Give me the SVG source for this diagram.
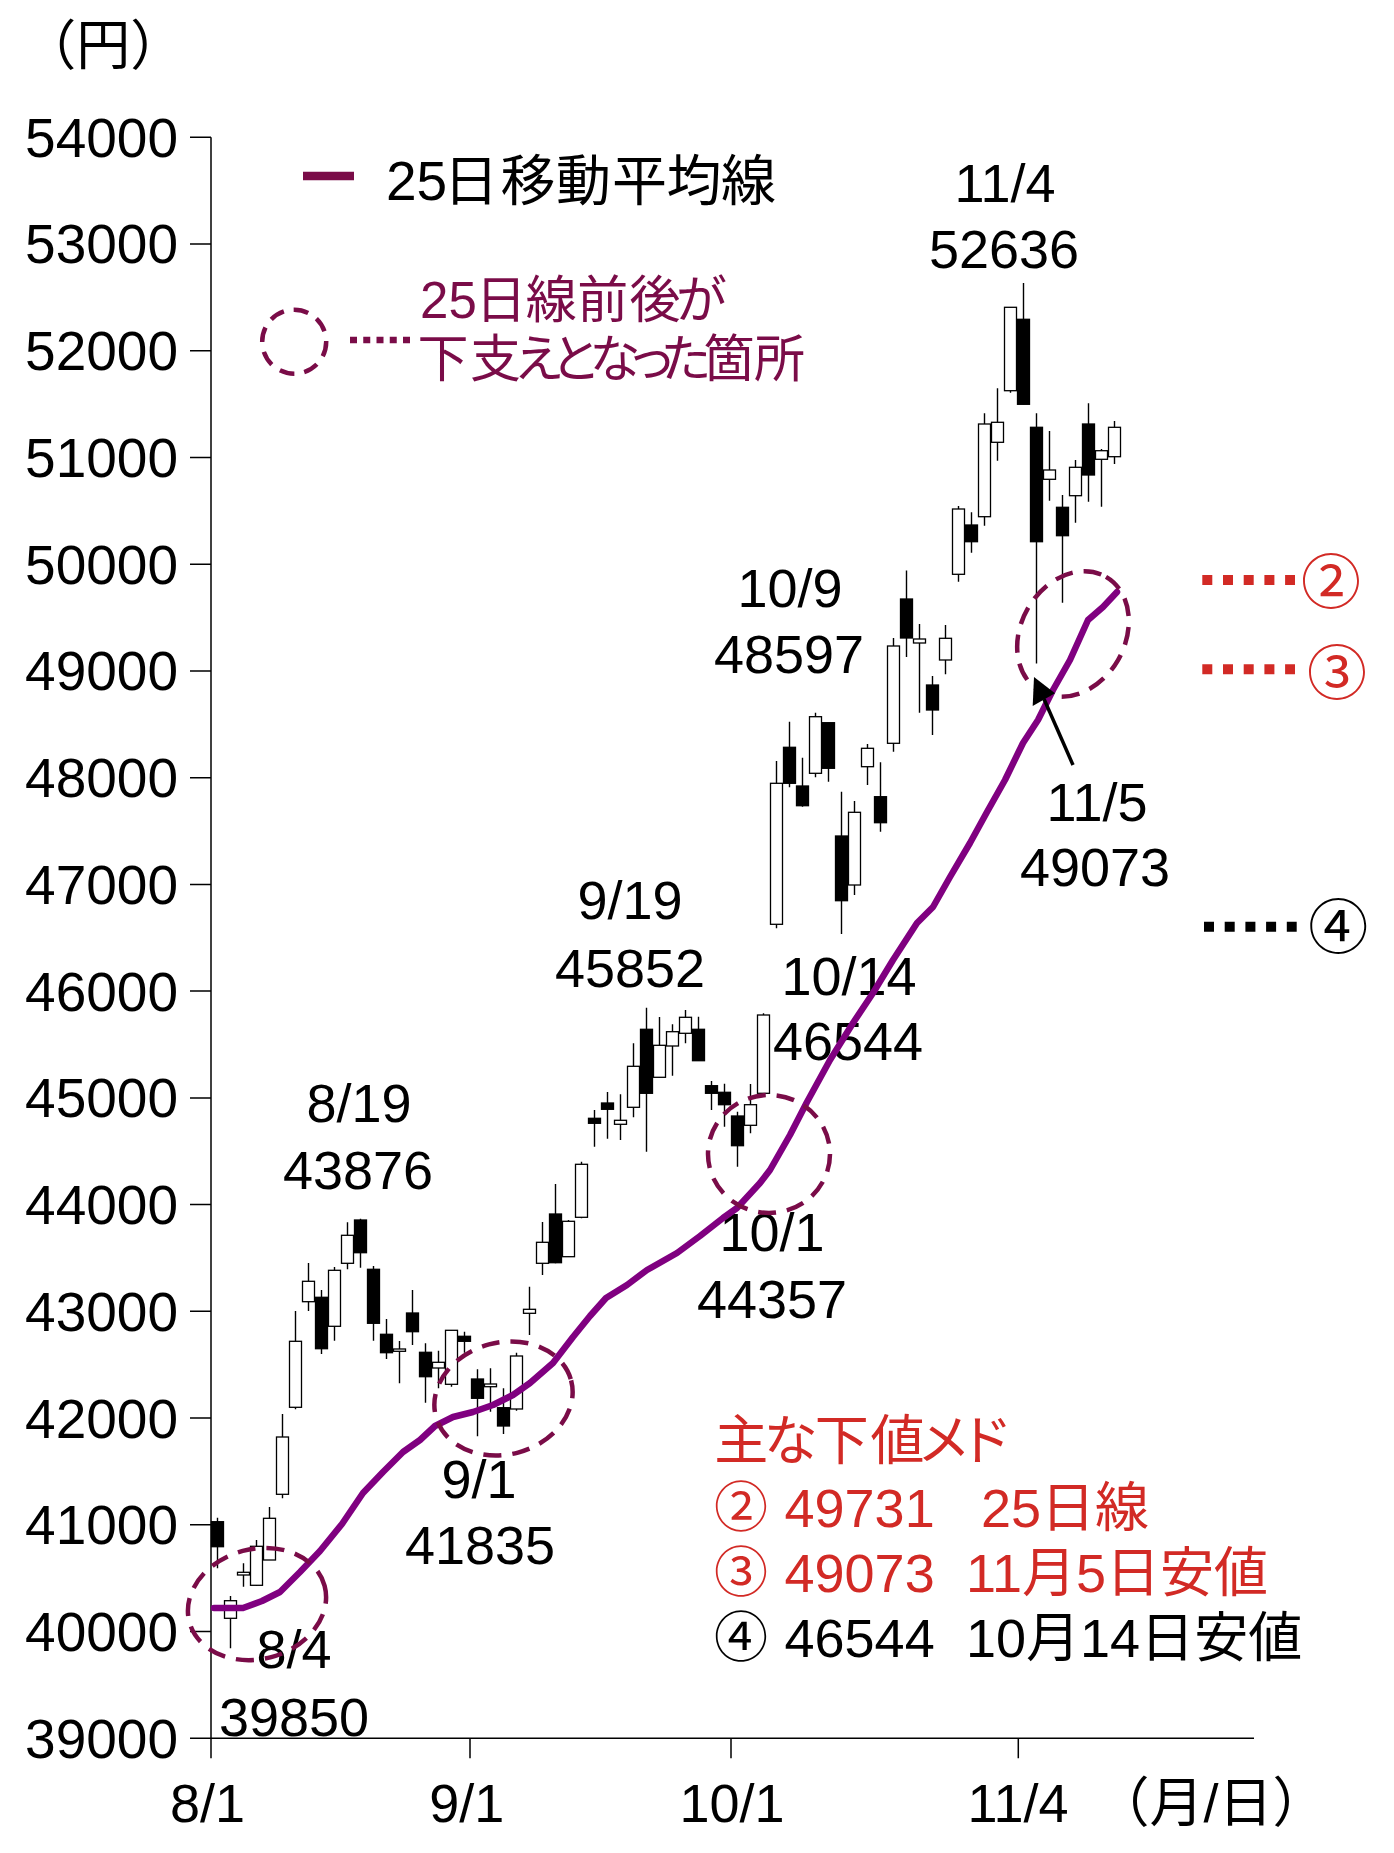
<svg xmlns="http://www.w3.org/2000/svg" width="1394" height="1853" viewBox="0 0 1394 1853">
<style>
text{font-family:"Liberation Sans","Noto Sans CJK JP",sans-serif;font-size:54px;fill:#000}
.mid{text-anchor:middle}
.end{text-anchor:end}
.yl{font-size:55px}
.red{fill:#d22a25}
.mar{fill:#7a0c48}
.ax{stroke:#000;stroke-width:1.5;fill:none}
.wick{stroke:#000;stroke-width:1.4;fill:none}
.cw{fill:#fff;stroke:#000;stroke-width:1.3}
.cb{fill:#000;stroke:#000;stroke-width:1.3}
.ring{fill:none;stroke:#7a0c48;stroke-width:4.5;stroke-dasharray:18 11}
.ma{fill:none;stroke:#800080;stroke-width:6.5;stroke-linejoin:round;stroke-linecap:round}
</style>
<rect width="1394" height="1853" fill="#fff"/>

<g id="axes">
<line class="ax" x1="211" y1="137.3" x2="211" y2="1758.3"/>
<line class="ax" x1="190" y1="1738.3" x2="1254" y2="1738.3"/>
<path class="ax" d="M190 137.3H211M190 244H211M190 350.8H211M190 457.5H211M190 564.2H211M190 670.9H211M190 777.7H211M190 884.4H211M190 991.1H211M190 1097.9H211M190 1204.6H211M190 1311.3H211M190 1418.1H211M190 1524.8H211M190 1631.5H211"/>
<path class="ax" d="M470 1738.3V1758.3M731 1738.3V1758.3M1018.3 1738.3V1758.3"/>
</g>

<g id="y-labels">
<text class="end yl" x="178" y="156.7">54000</text>
<text class="end yl" x="178" y="263.4">53000</text>
<text class="end yl" x="178" y="370.2">52000</text>
<text class="end yl" x="178" y="476.9">51000</text>
<text class="end yl" x="178" y="583.6">50000</text>
<text class="end yl" x="178" y="690.3">49000</text>
<text class="end yl" x="178" y="797.1">48000</text>
<text class="end yl" x="178" y="903.8">47000</text>
<text class="end yl" x="178" y="1010.5">46000</text>
<text class="end yl" x="178" y="1117.3">45000</text>
<text class="end yl" x="178" y="1224">44000</text>
<text class="end yl" x="178" y="1330.7">43000</text>
<text class="end yl" x="178" y="1437.5">42000</text>
<text class="end yl" x="178" y="1544.2">41000</text>
<text class="end yl" x="178" y="1650.9">40000</text>
<text class="end yl" x="178" y="1757.7">39000</text>
<text x="22.2" y="64.5">（円）</text>
</g>

<g id="x-labels">
<text class="mid" x="207.5" y="1821.7">8/1</text>
<text class="mid" x="466.7" y="1821.7">9/1</text>
<text class="mid" x="732" y="1821.7">10/1</text>
<text class="mid" x="1018" y="1821.7">11/4</text>
<text x="1095.5" y="1821.7">（月/日）</text>
</g>

<g id="candles">
<path class="wick" d="M217.5 1517.7V1568.3M230.5 1596V1648.3M243.5 1563.3V1586.7M256.5 1540V1586M269.5 1507V1560M282.5 1414V1498.3M295.5 1311V1409.3M308.5 1263V1311M321.5 1290V1354M334.5 1267V1340.7M347.5 1222.3V1269.3M360.5 1218.7V1267.7M373.5 1266V1340.7M386.5 1319V1359M399.5 1341V1383.3M412.5 1290V1345M425.5 1343.3V1402.7M438.5 1350.7V1388.3M451.5 1330V1386.7M464.5 1331.7V1352.7M477.5 1369.3V1436.3M490.5 1368.3V1411.7M503.5 1388.3V1434M516.5 1352.7V1410.7M529.5 1286.7V1335M542.5 1222V1275M555.5 1184V1263.3M568.5 1220V1256.7M581.5 1161.7V1218.3M594.5 1110V1146.7M607.5 1092V1138.7M620.5 1094.3V1140M633.5 1043.3V1117.3M646.5 1007.7V1151.7M659.5 1017V1077.3M672.5 1024.3V1075.7M685.5 1010V1043.3M698.5 1016.7V1060.7M711.5 1081V1110M724.5 1083.7V1126.7M737.5 1111.7V1166.7M750.5 1084V1133.3M763.5 1013.3V1093.3M776.5 761V928.3M789.5 721.7V787.3M802.5 757.7V806.7M815.5 712.7V777.3M828.5 722.7V781.7M841.5 791.7V934M854.5 801V895M867.5 744V785M880.5 762.3V831.7M893.5 638V751.7M906.5 570.6V657M919.5 624V712.7M932.5 676V735M945.5 625V674.3M958.5 506V581.7M971.5 512.3V552.7M984.5 413.3V525.7M997.5 388.3V460.7M1010.5 307.3V392.7M1023.5 283V404.3M1036.5 413.3V663.5M1049.5 431V500.7M1062.5 495V602.7M1075.5 460V522.7M1088.5 403.3V501.7M1101.5 449V506.7M1114.5 421V464"/>
<rect class="cb" x="211.5" y="1521.7" width="12" height="25"/>
<rect class="cw" x="224.5" y="1600.7" width="12" height="17.6"/>
<rect class="cw" x="237.5" y="1572.3" width="12" height="2.7"/>
<rect class="cw" x="250.5" y="1546.3" width="12" height="39"/>
<rect class="cw" x="263.5" y="1518.3" width="12" height="41.7"/>
<rect class="cw" x="276.5" y="1437" width="12" height="57.3"/>
<rect class="cw" x="289.5" y="1341.3" width="12" height="66"/>
<rect class="cw" x="302.5" y="1281.3" width="12" height="20.4"/>
<rect class="cb" x="315.5" y="1297.3" width="12" height="51.4"/>
<rect class="cw" x="328.5" y="1270.3" width="12" height="56"/>
<rect class="cw" x="341.5" y="1235.3" width="12" height="28"/>
<rect class="cb" x="354.5" y="1220" width="12" height="32.7"/>
<rect class="cb" x="367.5" y="1269.3" width="12" height="54"/>
<rect class="cb" x="380.5" y="1334.3" width="12" height="18.4"/>
<rect class="cw" x="393.5" y="1349" width="12" height="2.3"/>
<rect class="cb" x="406.5" y="1313" width="12" height="18.7"/>
<rect class="cb" x="419.5" y="1352.3" width="12" height="24.4"/>
<rect class="cw" x="432.5" y="1362.3" width="12" height="5.7"/>
<rect class="cw" x="445.5" y="1330.3" width="12" height="54"/>
<rect class="cb" x="458.5" y="1336.3" width="12" height="5"/>
<rect class="cb" x="471.5" y="1379" width="12" height="19.3"/>
<rect class="cw" x="484.5" y="1384" width="12" height="2.7"/>
<rect class="cb" x="497.5" y="1407.7" width="12" height="18.3"/>
<rect class="cw" x="510.5" y="1356" width="12" height="53"/>
<rect class="cw" x="523.5" y="1309.3" width="12" height="4"/>
<rect class="cw" x="536.5" y="1242.3" width="12" height="21"/>
<rect class="cb" x="549.5" y="1214" width="12" height="48.7"/>
<rect class="cw" x="562.5" y="1221.3" width="12" height="35.4"/>
<rect class="cw" x="575.5" y="1164.3" width="12" height="53"/>
<rect class="cb" x="588.5" y="1118.3" width="12" height="5"/>
<rect class="cb" x="601.5" y="1103" width="12" height="6.3"/>
<rect class="cw" x="614.5" y="1120.3" width="12" height="4"/>
<rect class="cw" x="627.5" y="1066.3" width="12" height="41"/>
<rect class="cb" x="640.5" y="1029.3" width="12" height="64"/>
<rect class="cw" x="653.5" y="1045.3" width="12" height="32"/>
<rect class="cw" x="666.5" y="1031.7" width="12" height="14.3"/>
<rect class="cw" x="679.5" y="1017.3" width="12" height="16"/>
<rect class="cb" x="692.5" y="1029.3" width="12" height="31.4"/>
<rect class="cb" x="705.5" y="1085.7" width="12" height="7.6"/>
<rect class="cb" x="718.5" y="1092.3" width="12" height="12.4"/>
<rect class="cb" x="731.5" y="1116" width="12" height="29.7"/>
<rect class="cw" x="744.5" y="1104.7" width="12" height="20.6"/>
<rect class="cw" x="757.5" y="1015" width="12" height="78.3"/>
<rect class="cw" x="770.5" y="783.3" width="12" height="141"/>
<rect class="cb" x="783.5" y="747.3" width="12" height="36"/>
<rect class="cb" x="796.5" y="786" width="12" height="19.7"/>
<rect class="cw" x="809.5" y="716.7" width="12" height="56.6"/>
<rect class="cb" x="822.5" y="722.7" width="12" height="45.6"/>
<rect class="cb" x="835.5" y="836" width="12" height="64.7"/>
<rect class="cw" x="848.5" y="812.3" width="12" height="72.7"/>
<rect class="cw" x="861.5" y="748.3" width="12" height="18.4"/>
<rect class="cb" x="874.5" y="796.7" width="12" height="26"/>
<rect class="cw" x="887.5" y="646" width="12" height="97.3"/>
<rect class="cb" x="900.5" y="599" width="12" height="39"/>
<rect class="cw" x="913.5" y="639" width="12" height="4"/>
<rect class="cb" x="926.5" y="685" width="12" height="25"/>
<rect class="cw" x="939.5" y="638.3" width="12" height="21.7"/>
<rect class="cw" x="952.5" y="509" width="12" height="65.3"/>
<rect class="cb" x="965.5" y="525" width="12" height="16.7"/>
<rect class="cw" x="978.5" y="424" width="12" height="92.7"/>
<rect class="cw" x="991.5" y="422.3" width="12" height="20"/>
<rect class="cw" x="1004.5" y="307.3" width="12" height="83.4"/>
<rect class="cb" x="1017.5" y="319.3" width="12" height="85"/>
<rect class="cb" x="1030.5" y="427.3" width="12" height="114.4"/>
<rect class="cw" x="1043.5" y="470" width="12" height="9.3"/>
<rect class="cb" x="1056.5" y="507.3" width="12" height="28.4"/>
<rect class="cw" x="1069.5" y="467.3" width="12" height="28.4"/>
<rect class="cb" x="1082.5" y="424" width="12" height="51"/>
<rect class="cw" x="1095.5" y="450.7" width="12" height="8.6"/>
<rect class="cw" x="1108.5" y="427.3" width="12" height="29.4"/>
</g>

<g id="point-labels">
<g id="lbl-1104"><text class="mid" x="1005" y="202">11/4</text><text class="mid" x="1004" y="268">52636</text></g>
<g id="lbl-1009"><text class="mid" x="790" y="607">10/9</text><text class="mid" x="789" y="673">48597</text></g>
<g id="lbl-0919"><text class="mid" x="630" y="919">9/19</text><text class="mid" x="630" y="987">45852</text></g>
<g id="lbl-0819"><text class="mid" x="359" y="1122">8/19</text><text class="mid" x="358" y="1189">43876</text></g>
<g id="lbl-0901"><text class="mid" x="479" y="1498">9/1</text><text class="mid" x="480" y="1564">41835</text></g>
<g id="lbl-0804"><text class="mid" x="294" y="1668">8/4</text><text class="mid" x="294" y="1736">39850</text></g>
<g id="lbl-1001"><text class="mid" x="772" y="1251">10/1</text><text class="mid" x="772" y="1318">44357</text></g>
<g id="lbl-1014"><text class="mid" x="849" y="995">10/14</text><text class="mid" x="848" y="1060">46544</text></g>
<g id="lbl-1105"><text class="mid" x="1097" y="821">11/5</text><text class="mid" x="1095" y="886">49073</text></g>
</g>

<g id="ma25">
<path class="ma" d="M214 1608L243 1608L262 1601L280 1592L300 1572L320 1551L342 1524L363 1493L383 1472L403 1452L420 1440L435 1426L453 1417L473 1412L493 1405L513 1395L530 1383L553 1363L573 1337L590 1316L606 1298L627 1285L647 1270L677 1253L700 1236L723 1218L737 1208L760 1183L770 1170L790 1135L807 1102L830 1060L853 1023L873 993L893 960L917 923L933 907L950 877L970 843L987 812L1005 780L1023 743L1038 720L1053 690L1070 660L1088 620L1103 607L1117 592"/>
</g>

<g id="support-rings">
<ellipse class="ring" cx="257" cy="1604" rx="70" ry="55" transform="rotate(-15 257 1604)"/>
<ellipse class="ring" cx="503.5" cy="1398.5" rx="70" ry="56" transform="rotate(-15 503.5 1398.5)"/>
<ellipse class="ring" cx="769" cy="1154" rx="61" ry="59"/>
<ellipse class="ring" cx="1073" cy="634" rx="66" ry="52" transform="rotate(-60 1073 634)"/>
</g>

<g id="connectors">
<line x1="1073" y1="765" x2="1044" y2="699" stroke="#000" stroke-width="3.5"/>
<polygon points="1034,677 1032.7,706 1055,693.3" fill="#000"/>
</g>

<g id="legend">
<line x1="303" y1="176" x2="354" y2="176" stroke="#7a0c48" stroke-width="8.3"/>
<text class="mid" x="401.3 431.9 471 528 583.6 639.5 694 748.5" y="200" style="font-size:55px">25日移動平均線</text>
<circle cx="294.2" cy="341.7" r="32" fill="none" stroke="#7a0c48" stroke-width="4.5" stroke-dasharray="15 10"/>
<line x1="350" y1="340" x2="410" y2="340" stroke="#7a0c48" stroke-width="6.5" stroke-dasharray="7 6.25"/>
<text class="mid mar" x="434.2 462.6 501 551.3 602.7 655 701.5" y="318" style="font-size:51px">25日線前後が</text>
<text class="mid mar" x="443 495.5 539 575.7 615 651.5 686 729 779.5" y="377" style="font-size:51px">下支えとなった箇所</text>
</g>

<g id="levels">
<line x1="1202.3" y1="580" x2="1295" y2="580" stroke="#d22a25" stroke-width="10" stroke-dasharray="10 10.7"/>
<text class="mid red" x="1331" y="603.5" style="font-size:60px">②</text>
<line x1="1202.3" y1="669.3" x2="1295" y2="669.3" stroke="#d22a25" stroke-width="10" stroke-dasharray="10 10.7"/>
<text class="mid red" x="1337" y="694.5" style="font-size:60px">③</text>
<line x1="1204" y1="926.7" x2="1296.7" y2="926.7" stroke="#000" stroke-width="10" stroke-dasharray="10 10.7"/>
<text class="mid" x="1338.3" y="948.6" style="font-size:60px">④</text>
</g>

<g id="support-list">
<text class="mid red" x="741.3 790.8 841.7 897.5 944 985.8" y="1460">主な下値メド</text>
<text class="mid red" x="741" y="1527">②</text>
<text class="red" x="784.5" y="1527">49731</text>
<text class="red" x="981" y="1527">25日線</text>
<text class="mid red" x="741" y="1592">③</text>
<text class="red" x="784.5" y="1592">49073</text>
<text class="red" x="966" y="1592">11月5日安値</text>
<text class="mid" x="741" y="1657">④</text>
<text x="784.5" y="1657">46544</text>
<text x="966" y="1657">10月14日安値</text>
</g>
</svg>
